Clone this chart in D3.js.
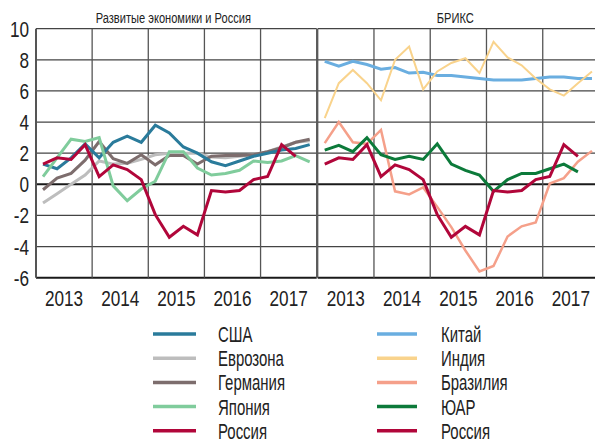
<!DOCTYPE html>
<html>
<head>
<meta charset="utf-8">
<script src="https://cdn.jsdelivr.net/npm/d3@7"></script>
<style>
  body { margin: 0; background: #fff; }
  svg text { font-family: "Liberation Sans", Arial, sans-serif; fill: #222; }
</style>
</head>
<body>
<script>
// quarterly GDP growth, % y/y, 2013Q1 .. 2017Q4
var years = [2013, 2014, 2015, 2016, 2017];
var yTicks = [-6, -4, -2, 0, 2, 4, 6, 8, 10];

var usa      = [1.3, 1.0, 1.7, 2.6, 1.7, 2.7, 3.1, 2.7, 3.8, 3.3, 2.4, 2.0, 1.45, 1.2, 1.5, 1.8, 2.0, 2.2, 2.3, 2.55];
var euro     = [-1.2, -0.6, 0.0, 0.6, 1.5, 1.3, 1.35, 1.6, 1.9, 2.0, 2.0, 2.0, 1.75, 1.7, 1.8, 1.9, 2.1, 2.4, 2.7, 2.8];
var germany  = [-0.35, 0.4, 0.7, 1.55, 2.75, 1.65, 1.35, 1.9, 1.25, 1.85, 1.85, 1.3, 1.8, 1.85, 1.85, 1.9, 2.1, 2.35, 2.7, 2.9];
var japan    = [0.5, 1.7, 2.9, 2.75, 3.0, -0.1, -1.05, -0.3, 0.2, 2.1, 2.1, 1.05, 0.6, 0.7, 0.9, 1.5, 1.4, 1.5, 1.85, 1.45];
var russia   = [1.3, 1.7, 1.6, 2.55, 0.5, 1.25, 0.95, 0.3, -1.95, -3.4, -2.7, -3.25, -0.4, -0.5, -0.4, 0.3, 0.5, 2.55, 1.8];

var china    = [7.9, 7.6, 7.9, 7.7, 7.4, 7.5, 7.15, 7.2, 7.0, 7.0, 6.9, 6.8, 6.7, 6.7, 6.7, 6.8, 6.9, 6.9, 6.8, 6.8];
var india    = [4.25, 6.5, 7.35, 6.5, 5.4, 8.0, 8.85, 6.1, 7.25, 7.8, 8.1, 7.15, 9.15, 8.15, 7.65, 6.8, 6.1, 5.7, 6.5, 7.25];
var brazil   = [2.65, 4.0, 2.7, 2.6, 3.5, -0.45, -0.65, -0.2, -1.45, -2.75, -4.25, -5.6, -5.25, -3.35, -2.7, -2.45, 0.05, 0.4, 1.45, 2.15];
var safrica  = [2.2, 2.5, 2.1, 3.0, 1.9, 1.6, 1.8, 1.6, 2.6, 1.3, 0.9, 0.6, -0.45, 0.3, 0.7, 0.7, 1.0, 1.3, 0.8];

var leftSeries = [
  {name: "США", values: usa, color: "#2a7b9b", w: 3},
  {name: "Еврозона", values: euro, color: "#bdbdbd", w: 3},
  {name: "Германия", values: germany, color: "#7d6d6d", w: 3},
  {name: "Япония", values: japan, color: "#80cc9c", w: 3},
  {name: "Россия", values: russia, color: "#b1063a", w: 3}
];
var rightSeries = [
  {name: "Китай", values: china, color: "#6aaee0", w: 3},
  {name: "Индия", values: india, color: "#f9d38c", w: 2},
  {name: "Бразилия", values: brazil, color: "#f5a08a", w: 2.5},
  {name: "ЮАР", values: safrica, color: "#0c7a3a", w: 3},
  {name: "Россия", values: russia, color: "#b1063a", w: 3}
];
// draw order (last on top)
var leftOrder = [1, 2, 0, 3, 4];
var rightOrder = [0, 1, 2, 3, 4];

var W = 595, H = 441;
var svg = d3.select("body").append("svg")
    .attr("width", W)
    .attr("height", H);

// the original font is a condensed face; squeeze a regular one
function label(x, y, txt, size, sx, anchor) {
  return svg.append("text")
      .attr("transform", "translate(" + x + "," + y + ") scale(" + sx + ",1)")
      .attr("text-anchor", anchor || "start")
      .style("font-size", size + "px")
      .text(txt);
}

var y = d3.scaleLinear().domain([-6, 10]).range([277.7, 28.7]);

var panels = [
  {title: "Развитые экономики и Россия", x: d3.scaleLinear().domain([2013, 2018]).range([36, 316.7]), series: leftSeries, order: leftOrder},
  {title: "БРИКС", x: d3.scaleLinear().domain([2013, 2018]).range([317.7, 599]), series: rightSeries, order: rightOrder}
];

// grid
panels.forEach(function(p) {
  var g = svg.append("g");
  g.selectAll("line.h").data(yTicks).enter().append("line")
      .attr("x1", p.x.range()[0]).attr("x2", p.x.range()[1])
      .attr("y1", function(d) { return y(d); }).attr("y2", function(d) { return y(d); })
      .attr("stroke", function(d) { return (d === 0 || d === -6) ? "#1a1a1a" : "#444"; })
      .attr("stroke-width", function(d) { return (d === 0 || d === -6) ? 2 : 1.2; });
  g.selectAll("line.v").data(d3.range(2013, 2019)).enter().append("line")
      .attr("x1", function(d) { return p.x(d); }).attr("x2", function(d) { return p.x(d); })
      .attr("y1", y(10)).attr("y2", y(-6))
      .attr("stroke", "#555")
      .attr("stroke-width", function(d, i) { return i === 0 && p === panels[0] ? 2 : 1.3; });

  years.forEach(function(yr) {
    label(p.x(yr + 0.5), 306, yr, 22, 0.78, "middle");
  });

  label((p.x.range()[0] + p.x.range()[1]) / 2 - 3, 23, p.title, 15, 0.74, "middle");
});

// y axis labels
yTicks.forEach(function(t) {
  label(29, y(t) + 8, t, 22, 0.78, "end");
});

// series lines
panels.forEach(function(p) {
  var line = d3.line()
      .x(function(d, i) { return p.x(2013 + (i + 0.5) / 4); })
      .y(function(d) { return y(d); });
  p.order.forEach(function(k) {
    var s = p.series[k];
    svg.append("path")
        .datum(s.values)
        .attr("d", line)
        .attr("fill", "none")
        .attr("stroke", s.color)
        .attr("stroke-width", s.w)
        .attr("stroke-linejoin", "miter");
  });
});

// legend
var legendCols = [
  {series: leftSeries, x1: 153, x2: 196, tx: 218},
  {series: rightSeries, x1: 377, x2: 417, tx: 441}
];
legendCols.forEach(function(c) {
  var row = c.series.map(function(s, i) { return {s: s, y: 334 + i * 24.2}; });
  svg.selectAll(null).data(row).enter().append("line")
      .attr("x1", c.x1).attr("x2", c.x2)
      .attr("y1", function(d) { return d.y; }).attr("y2", function(d) { return d.y; })
      .attr("stroke", function(d) { return d.s.color; })
      .attr("stroke-width", 3.5);
  row.forEach(function(d) {
    label(c.tx, d.y + 8, d.s.name, 22, 0.68);
  });
});
</script>
</body>
</html>
